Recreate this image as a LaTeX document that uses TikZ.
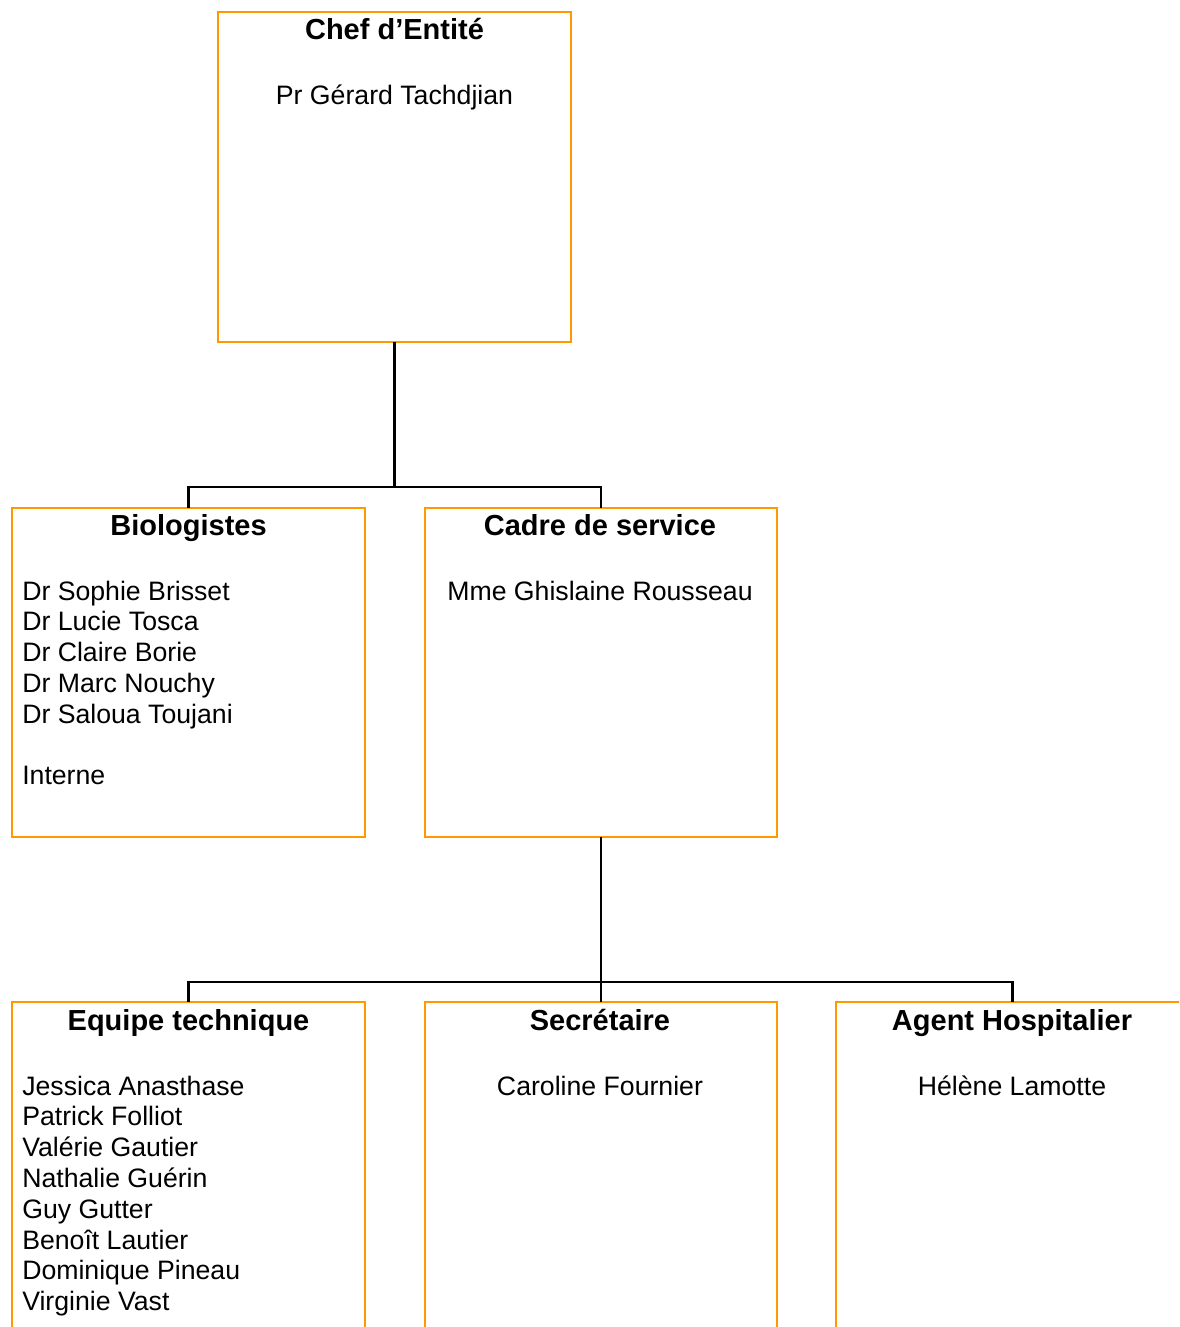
\documentclass[tikz,border=0pt]{standalone}
\usepackage{fontspec}
\setmainfont{Liberation Sans}
\definecolor{boxor}{RGB}{255,153,0}
\begin{document}
\begin{tikzpicture}[x=0.75pt,y=-0.75pt,
  box/.style={draw=boxor,line width=1.5pt,rectangle,inner sep=0pt,outer sep=0pt},
  conn/.style={draw=black,line width=2.1pt},
  ttl/.style={font=\fontsize{21.75}{26}\selectfont\bfseries,anchor=base,inner sep=0pt},
  nm/.style={font=\fontsize{20}{24}\selectfont,anchor=base west,inner sep=0pt},
  nmc/.style={font=\fontsize{20}{24}\selectfont,anchor=base,inner sep=0pt}]
\clip (0,0) rectangle (1179,1327);
\fill[white] (0,0) rectangle (1179,1327);
% boxes
\node[box,minimum width=264.75pt,minimum height=247.5pt] (chef) at (394.5,177) {};
\node[box,minimum width=264.75pt,minimum height=246.75pt] (biol) at (188.5,672.5) {};
\node[box,minimum width=264pt,minimum height=246.75pt] (cadre) at (601,672.5) {};
\node[box,minimum width=264.75pt,minimum height=268.5pt] (equipe) at (188.5,1181) {};
\node[box,minimum width=264pt,minimum height=268.5pt] (secr) at (601,1181) {};
\node[box,minimum width=264.75pt,minimum height=268.5pt] (agent) at (1012.5,1181) {};
% connectors
\draw[conn] (chef.south) -- ++(0,145) coordinate (j1) -| (biol.north);
\draw[conn] (j1) -| (cadre.north);
\draw[conn] (cadre.south) -- ++(0,145) coordinate (j2) -| (equipe.north);
\draw[conn] (j2) -| (agent.north);
\draw[conn] (j2) -- (secr.north);
% texts
\node[ttl] (t1) at (394.5,40) {Chef d’Entité};
\node[nmc] (n1) at (394.5,105) {Pr Gérard Tachdjian};
\node[ttl] (t2) at (188.5,535) {Biologistes};
\node[nm] (b1) at (22,600) {Dr Sophie Brisset};
\node[nm] (b2) at (22,630.8) {Dr Lucie Tosca};
\node[nm] (b3) at (22,661.6) {Dr Claire Borie};
\node[nm] (b4) at (22,692.4) {Dr Marc Nouchy};
\node[nm] (b5) at (22,723.2) {Dr Saloua Toujani};
\node[nm] (b6) at (22,784.8) {Interne};
\node[ttl] (t3) at (600,535) {Cadre de service};
\node[nmc] (c1) at (600,600) {Mme Ghislaine Rousseau};
\node[ttl] (t4) at (188.5,1030) {Equipe technique};
\node[nm] (e1) at (22,1095) {Jessica Anasthase};
\node[nm] (e2) at (22,1125.8) {Patrick Folliot};
\node[nm] (e3) at (22,1156.6) {Valérie Gautier};
\node[nm] (e4) at (22,1187.4) {Nathalie Guérin};
\node[nm] (e5) at (22,1218.2) {Guy Gutter};
\node[nm] (e6) at (22,1249) {Benoît Lautier};
\node[nm] (e7) at (22,1279.8) {Dominique Pineau};
\node[nm] (e8) at (22,1310.6) {Virginie Vast};
\node[ttl] (t5) at (600,1030) {Secrétaire};
\node[nmc] (s1) at (600,1095) {Caroline Fournier};
\node[ttl] (t6) at (1012,1030) {Agent Hospitalier};
\node[nmc] (a1) at (1012,1095) {Hélène Lamotte};
\end{tikzpicture}
\end{document}
